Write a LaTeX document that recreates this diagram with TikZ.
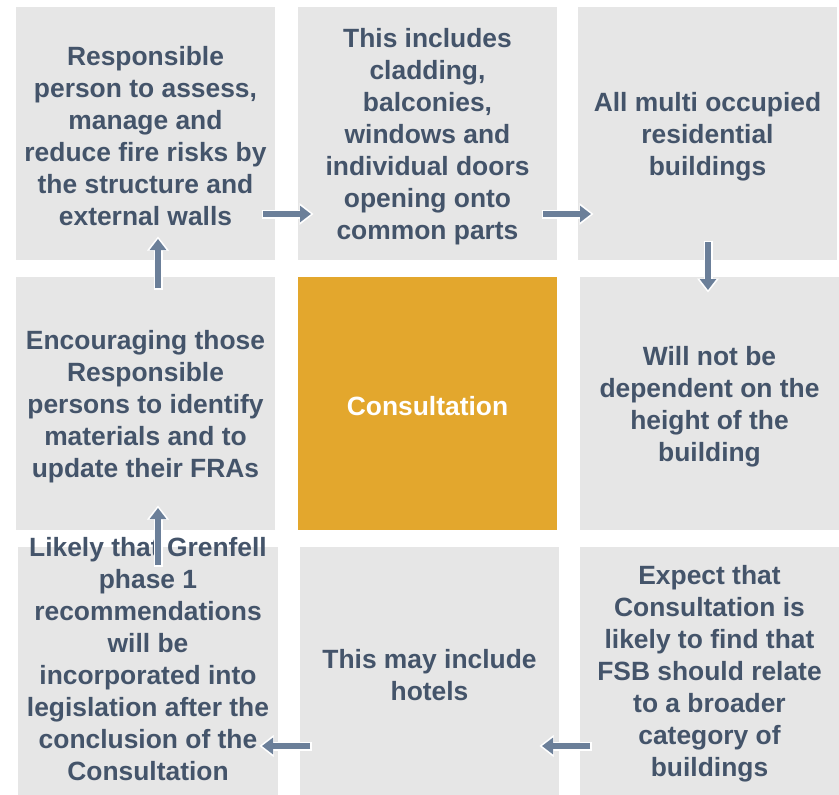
\documentclass[tikz,border=0pt]{standalone}
\usepackage{fontspec}
\setmainfont{Liberation Sans}
\usetikzlibrary{arrows.meta}
\definecolor{boxgrey}{HTML}{E6E6E6}
\definecolor{hubgold}{HTML}{E3A72D}
\definecolor{inkblue}{HTML}{44546A}
\definecolor{arrowblue}{HTML}{6B7F99}
\tikzset{
  panel/.style={fill=boxgrey, draw=none, inner sep=0pt},
  hub/.style={panel, fill=hubgold},
  caption/.style={inner sep=0pt, align=center, text=inkblue,
    font=\fontsize{26.4}{32}\selectfont\bfseries},
  hubcaption/.style={caption, text=white},
  blockarrow/.style={
    preaction={draw=white, line width=9pt, shorten <=-1.5pt, shorten >=-2.5pt,
      -{Triangle[width=21pt,length=14pt]}},
    draw=arrowblue, line width=6pt, -{Triangle[width=16pt,length=11pt]}}
}
\begin{document}
\begin{tikzpicture}[x=1pt,y=-1pt]
\useasboundingbox (0,0) rectangle (839,795);
% panels: top row
\node[panel, minimum width=259pt, minimum height=253pt] (b1) at (145.5,133.5) {};
\node[panel, minimum width=259pt, minimum height=253pt] (b2) at (427.5,133.5) {};
\node[panel, minimum width=259pt, minimum height=253pt] (b3) at (707.5,133.5) {};
% middle row
\node[panel, minimum width=259pt, minimum height=253pt] (b4) at (145.5,403.5) {};
\node[hub, minimum width=259pt, minimum height=253pt] (b5) at (427.5,403.5) {};
\node[panel, minimum width=259pt, minimum height=253pt] (b6) at (709.5,403.5) {};
% bottom row (runs past the lower edge)
\node[panel, minimum width=260pt, minimum height=256pt] (b7) at (148,675) {};
\node[panel, minimum width=259pt, minimum height=256pt] (b8) at (429.5,675) {};
\node[panel, minimum width=259pt, minimum height=256pt] (b9) at (709.5,675) {};
% texts
\node[caption] (t1) at (145.5,136.5)
  {Responsible\\person to assess,\\manage and\\reduce fire risks by\\the structure and\\external walls};
\node[caption] (t2) at (427.5,136.5)
  {This includes\\cladding,\\balconies,\\windows and\\individual doors\\opening onto\\common parts};
\node[caption] (t3) at (707.5,136.5)
  {All multi occupied\\residential\\buildings};
\node[caption] (t4) at (145.5,406.5)
  {Encouraging those\\Responsible\\persons to identify\\materials and to\\update their FRAs};
\node[hubcaption] (t5) at (427.5,406)
  {Consultation};
\node[caption] (t6) at (709.5,406.5)
  {Will not be\\dependent on the\\height of the\\building};
\node[caption] (t7) at (148,659)
  {Likely that Grenfell\\phase 1\\recommendations\\will be\\incorporated into\\legislation after the\\conclusion of the\\Consultation};
\node[caption] (t8) at (429.5,675)
  {This may include\\hotels};
\node[caption] (t9) at (709.5,674)
  {Expect that\\Consultation is\\likely to find that\\FSB should relate\\to a broader\\category of\\buildings};
% arrow end points
\coordinate (a1s) at (263,214); \coordinate (a1e) at (311,214);
\coordinate (a2s) at (543,214); \coordinate (a2e) at (591,214);
\coordinate (a3s) at (708,242); \coordinate (a3e) at (708,290);
\coordinate (a4s) at (590,746); \coordinate (a4e) at (542,746);
\coordinate (a5s) at (310,746); \coordinate (a5e) at (262,746);
\coordinate (a6s) at (158,565); \coordinate (a6e) at (158,508);
\coordinate (a7s) at (158,288); \coordinate (a7e) at (158,239);
\draw[blockarrow] (a1s) -- (a1e);
\draw[blockarrow] (a2s) -- (a2e);
\draw[blockarrow] (a3s) -- (a3e);
\draw[blockarrow] (a4s) -- (a4e);
\draw[blockarrow] (a5s) -- (a5e);
\draw[blockarrow] (a6s) -- (a6e);
\draw[blockarrow] (a7s) -- (a7e);
\end{tikzpicture}
\end{document}
